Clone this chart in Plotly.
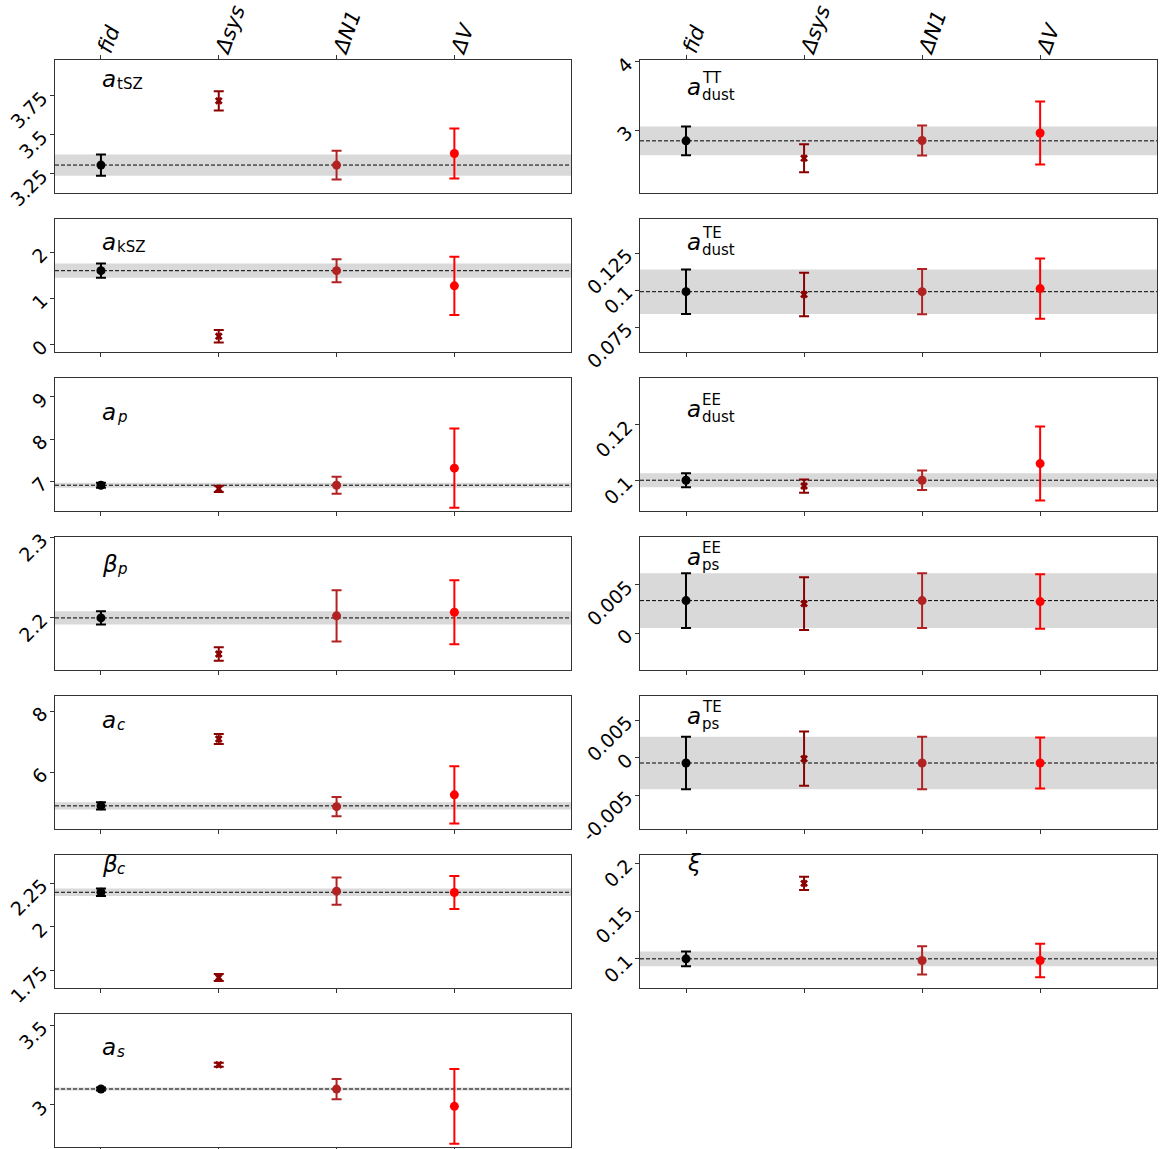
import plotly.graph_objects as go

W, H = 1161, 1149

# ---------------- data ----------------
categories = ['<i>fid</i>', '<i>Δsys</i>', '<i>ΔN1</i>', '<i>ΔV</i>']
cat_colors = ['black', '#8b0000', '#b22222', '#ff0000']
cat_symbols = ['circle', 'x', 'circle', 'circle']

a_tSZ_val = [3.306, 3.718, 3.306, 3.38]
a_tSZ_err = [0.068, 0.062, 0.092, 0.16]

a_kSZ_val = [1.598, 0.18, 1.598, 1.27]
a_kSZ_err = [0.155, 0.135, 0.25, 0.63]

a_p_val = [6.905, 6.82, 6.905, 7.31]
a_p_err = [0.06, 0.075, 0.2, 0.94]

beta_p_val = [2.2, 2.155, 2.2026, 2.207]
beta_p_err = [0.0083, 0.0085, 0.032, 0.040]

a_c_val = [4.911, 7.09, 4.885, 5.27]
a_c_err = [0.12, 0.16, 0.315, 0.93]

beta_c_val = [2.1985, 1.71, 2.205, 2.197]
beta_c_err = [0.022, 0.02, 0.0775, 0.094]

a_s_val = [3.1004, 3.253, 3.1, 2.991]
a_s_err = [0.01, 0.013, 0.064, 0.235]

a_dust_TT_val = [2.843, 2.59, 2.848, 2.958]
a_dust_TT_err = [0.21, 0.205, 0.22, 0.46]

a_dust_TE_val = [0.0989, 0.097, 0.0989, 0.101]
a_dust_TE_err = [0.015, 0.0147, 0.0153, 0.0203]

a_dust_EE_val = [0.1001, 0.098, 0.1001, 0.1061]
a_dust_EE_err = [0.0025, 0.0024, 0.0035, 0.0133]

a_ps_EE_val = [0.00337, 0.00306, 0.00337, 0.00327]
a_ps_EE_err = [0.0028, 0.0027, 0.0028, 0.0028]

a_ps_TE_val = [-0.0007, -0.00013, -0.0007, -0.0007]
a_ps_TE_err = [0.0035, 0.0036, 0.0035, 0.0034]

xi_val = [0.1, 0.179, 0.0983, 0.0983]
xi_err = [0.0078, 0.007, 0.0148, 0.0176]

# tick labels
a_tSZ_ticks = ['3.25', '3.5', '3.75']
a_kSZ_ticks = ['0', '1', '2']
a_p_ticks = ['7', '8', '9']
beta_p_ticks = ['2.2', '2.3']
a_c_ticks = ['6', '8']
beta_c_ticks = ['1.75', '2', '2.25']
a_s_ticks = ['3', '3.5']
a_dust_TT_ticks = ['3', '4']
a_dust_TE_ticks = ['0.075', '0.1', '0.125']
a_dust_EE_ticks = ['0.1', '0.12']
a_ps_EE_ticks = ['0', '0.005']
a_ps_TE_ticks = ['-0.005', '0', '0.005']
xi_ticks = ['0.1', '0.15', '0.2']

# ---------------- layout config ----------------
panels = [
    dict(v=a_tSZ_val, e=a_tSZ_err, t=a_tSZ_ticks, col=0, row=0, yr=[3.13, 3.98], base='a', sub='tSZ', sup=None, ly=21),
    dict(v=a_kSZ_val, e=a_kSZ_err, t=a_kSZ_ticks, col=0, row=1, yr=[-0.15, 2.716], base='a', sub='kSZ', sup=None, ly=25),
    dict(v=a_p_val, e=a_p_err, t=a_p_ticks, col=0, row=2, yr=[6.305, 9.45], base='a', sub='<i>p</i>', sup=None, ly=36),
    dict(v=beta_p_val, e=beta_p_err, t=beta_p_ticks, col=0, row=3, yr=[2.1356, 2.301], base='β', sub='<i>p</i>', sup=None, ly=29),
    dict(v=a_c_val, e=a_c_err, t=a_c_ticks, col=0, row=4, yr=[4.174, 8.49], base='a', sub='<i>c</i>', sup=None, ly=26),
    dict(v=beta_c_val, e=beta_c_err, t=beta_c_ticks, col=0, row=5, yr=[1.653, 2.412], base='β', sub='<i>c</i>', sup=None, ly=11),
    dict(v=a_s_val, e=a_s_err, t=a_s_ticks, col=0, row=6, yr=[2.738, 3.573], base='a', sub='<i>s</i>', sup=None, ly=35),
    dict(v=a_dust_TT_val, e=a_dust_TT_err, t=a_dust_TT_ticks, col=1, row=0, yr=[2.088, 4.025], base='a', sub='dust', sup='TT', ly=29),
    dict(v=a_dust_TE_val, e=a_dust_TE_err, t=a_dust_TE_ticks, col=1, row=1, yr=[0.0585, 0.148], base='a', sub='dust', sup='TE', ly=25),
    dict(v=a_dust_EE_val, e=a_dust_EE_err, t=a_dust_EE_ticks, col=1, row=2, yr=[0.0892, 0.1369], base='a', sub='dust', sup='EE', ly=33),
    dict(v=a_ps_EE_val, e=a_ps_EE_err, t=a_ps_EE_ticks, col=1, row=3, yr=[-0.0037, 0.0099], base='a', sub='ps', sup='EE', ly=22),
    dict(v=a_ps_TE_val, e=a_ps_TE_err, t=a_ps_TE_ticks, col=1, row=4, yr=[-0.0094, 0.0082], base='a', sub='ps', sup='TE', ly=22),
    dict(v=xi_val, e=xi_err, t=xi_ticks, col=1, row=5, yr=[0.07, 0.2087], base='ξ', sub=None, sup=None, ly=10),
]

col_x = [(55, 571), (640, 1157)]
row_top = [60, 219, 378, 537, 696, 855, 1014]
panel_h = 132.5
x_range = [-0.39, 3.99]
FONT = 'DejaVu Sans'
AXC = '#333333'

fig = go.Figure()
layout = dict(
    width=W, height=H,
    margin=dict(l=0, r=0, t=0, b=0, autoexpand=False),
    paper_bgcolor='white', plot_bgcolor='white',
    showlegend=False,
    font=dict(family=FONT, color='black'),
)
shapes = []
annotations = []

for i, p in enumerate(panels, start=1):
    xs = '' if i == 1 else str(i)
    x0, x1 = col_x[p['col']]
    top = row_top[p['row']]
    bot = top + panel_h
    xa = dict(
        domain=[x0 / W, x1 / W], range=x_range, anchor='y' + xs,
        tickvals=list(range(len(categories))), ticktext=categories,
        showgrid=False, zeroline=False, showline=True, mirror=True,
        linecolor=AXC, linewidth=1.2, ticks='outside', ticklen=4,
        tickcolor=AXC, fixedrange=True, automargin=False,
    )
    if p['row'] == 0:
        xa.update(side='top', showticklabels=True, tickangle=-70,
                  ticklabelstandoff=-15,
                  tickfont=dict(size=21, family=FONT, color='black'))
    else:
        xa.update(showticklabels=False)
    tv = [float(s) for s in p['t']]
    ya = dict(
        domain=[1 - bot / H, 1 - top / H], range=p['yr'], anchor='x' + xs,
        tickvals=tv, ticktext=p['t'], tickangle=-45, ticklabelstandoff=4,
        tickfont=dict(size=19, family=FONT, color='black'),
        showgrid=False, zeroline=False, showline=True, mirror=True,
        linecolor=AXC, linewidth=1.2, ticks='outside', ticklen=4,
        tickcolor=AXC, fixedrange=True, automargin=False,
    )
    layout['xaxis' + xs] = xa
    layout['yaxis' + xs] = ya

    fid, fid_e = p['v'][0], p['e'][0]
    shapes.append(dict(type='rect', xref='x' + xs + ' domain', yref='y' + xs,
                       x0=0, x1=1, y0=fid - fid_e, y1=fid + fid_e,
                       fillcolor='#d9d9d9', line=dict(width=0), layer='below'))
    shapes.append(dict(type='line', xref='x' + xs + ' domain', yref='y' + xs,
                       x0=0, x1=1, y0=fid, y1=fid,
                       line=dict(color='black', width=1, dash='4px,2px'), layer='below'))

    for k in range(len(categories)):
        sym = cat_symbols[k]
        marker = dict(color=cat_colors[k], symbol=sym, size=9)
        if sym == 'x':
            marker.update(size=7, line=dict(width=0))
        fig.add_trace(go.Scatter(
            x=[k], y=[p['v'][k]], mode='markers',
            xaxis='x' + xs, yaxis='y' + xs,
            marker=marker,
            error_y=dict(type='data', array=[p['e'][k]], visible=True,
                         color=cat_colors[k], thickness=2, width=5),
            hoverinfo='skip',
        ))

    # parameter label
    lx = (x0 + 46) / W
    lyc = top + p['ly'] - 2
    annotations.append(dict(xref='paper', yref='paper', x=lx, y=1 - lyc / H,
                            xanchor='left', yanchor='middle', showarrow=False,
                            text='<i>' + p['base'] + '</i>', borderpad=0,
                            font=dict(size=23, family=FONT, color='black')))
    if p['sub']:
        annotations.append(dict(xref='paper', yref='paper', x=(x0 + 46 + 15) / W,
                                y=1 - (lyc + (8 if p['sup'] else 5)) / H,
                                xanchor='left', yanchor='middle', showarrow=False,
                                text=p['sub'], borderpad=0,
                                font=dict(size=15, family=FONT, color='black')))
    if p['sup']:
        annotations.append(dict(xref='paper', yref='paper', x=(x0 + 46 + 15) / W,
                                y=1 - (lyc - 9) / H,
                                xanchor='left', yanchor='middle', showarrow=False,
                                text=p['sup'], borderpad=0,
                                font=dict(size=15, family=FONT, color='black')))

layout['shapes'] = shapes
layout['annotations'] = annotations
fig.update_layout(**layout)
fig.write_html('out.html',
               config={'displayModeBar': False, 'staticPlot': True},
               post_script="document.body.style.margin='0';document.body.style.overflow='hidden';")
